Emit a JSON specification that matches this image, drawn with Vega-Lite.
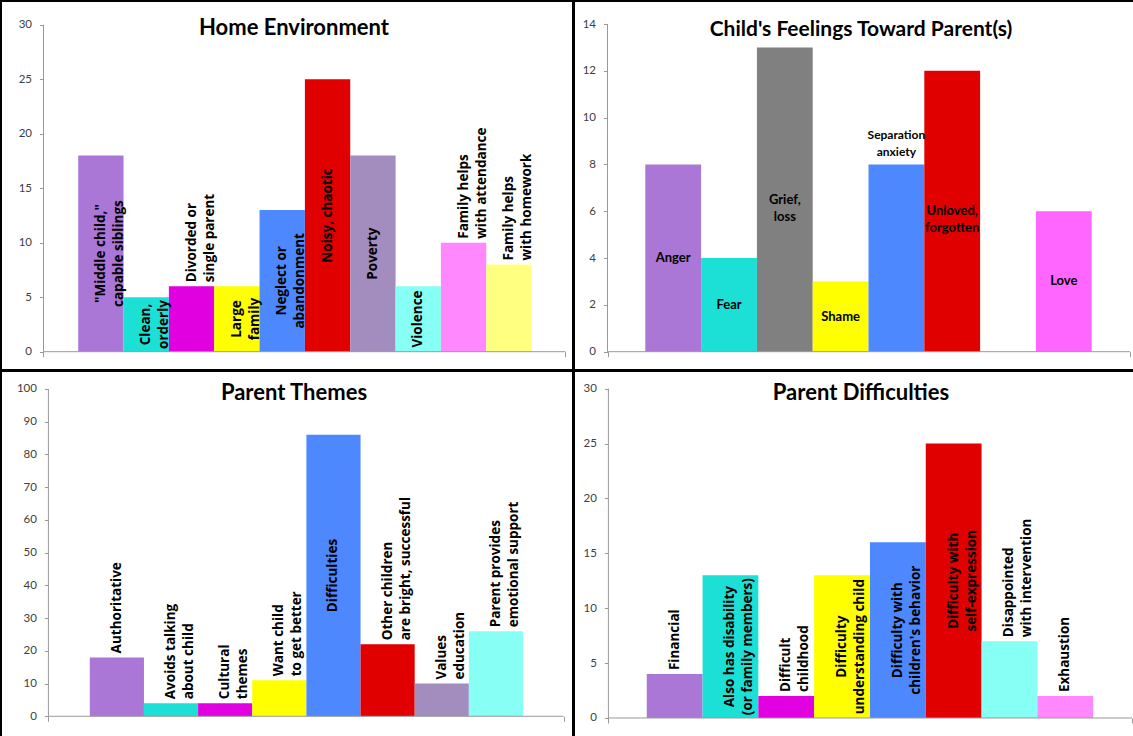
{
  "$schema": "https://vega.github.io/schema/vega-lite/v6.json",
  "background": "black",
  "padding": {"left": 2, "top": 2, "right": 0, "bottom": 0},
  "spacing": 3,
  "resolve": {"scale": {"color": "independent"}},
  "config": {
    "view": {"fill": "white", "stroke": null},
    "axis": {"labelFont": "Lato", "labelFontSize": 11.5, "labelColor": "#404040", "tickColor": "#999999", "tickSize": 4, "domain": false, "grid": false, "title": null, "labelPadding": 8},
    "title": {"font": "Lato", "fontSize": 22, "fontWeight": "bold", "color": "black", "anchor": "middle", "frame": "group", "baseline": "alphabetic", "dx": 7},
    "text": {"font": "Open Sans", "fontSize": 13.5, "fontWeight": "bold", "fill": "black", "lineBreak": "\n", "lineHeight": 18}
  },
  "vconcat": [
    {
      "spacing": 3,
      "resolve": {"scale": {"color": "independent"}},
      "hconcat": [
        {
          "width": 570, "height": 367,
          "title": {"text": "Home Environment", "offset": -38},
          "data": {"values": [
            {"label": "\"Middle child,\"\ncapable siblings", "value": 18},
            {"label": "Clean,\norderly", "value": 5},
            {"label": "Divorded or\nsingle parent", "value": 6},
            {"label": "Large\nfamily", "value": 6},
            {"label": "Neglect  or\nabandonment", "value": 13},
            {"label": "Noisy,  chaotic", "value": 25},
            {"label": "Poverty", "value": 18},
            {"label": "Violence", "value": 6},
            {"label": "Family helps\nwith attendance", "value": 10},
            {"label": "Family helps\nwith homework", "value": 8}
          ]},
          "layer": [
            {
              "encoding": {
                "x": {"field": "label", "type": "nominal", "scale": {"type": "band", "domain": ["\"Middle child,\"\ncapable siblings", "Clean,\norderly", "Divorded or\nsingle parent", "Large\nfamily", "Neglect  or\nabandonment", "Noisy,  chaotic", "Poverty", "Violence", "Family helps\nwith attendance", "Family helps\nwith homework"], "paddingInner": 0, "paddingOuter": 0, "range": [76.2, 529.6]}, "axis": null},
                "y": {"field": "value", "type": "quantitative", "scale": {"domain": [-1.587, 32.083], "nice": false, "zero": false}, "axis": {"values": [0, 5, 10, 15, 20, 25, 30], "offset": -41.5}}
              },
              "layer": [
                {"mark": {"type": "bar"}, "encoding": {"y2": {"datum": 0}, "color": {"field": "label", "type": "nominal", "legend": null, "scale": {"domain": ["\"Middle child,\"\ncapable siblings", "Clean,\norderly", "Divorded or\nsingle parent", "Large\nfamily", "Neglect  or\nabandonment", "Noisy,  chaotic", "Poverty", "Violence", "Family helps\nwith attendance", "Family helps\nwith homework"], "range": ["#AB77D6", "#1CE0D6", "#E000E0", "#FFFF00", "#4D88FF", "#E00000", "#A38CBE", "#88FFF5", "#FF88FF", "#FFFF80"]}}}},
                {"transform": [{"filter": {"field": "label", "oneOf": ["Divorded or\nsingle parent", "Family helps\nwith attendance", "Family helps\nwith homework"]}}], "mark": {"type": "text", "angle": 270, "align": "left", "baseline": "middle", "dx": 4}, "encoding": {"text": {"field": "label"}}}
              ]
            },
            {
              "transform": [{"filter": {"field": "label", "oneOf": ["\"Middle child,\"\ncapable siblings", "Clean,\norderly", "Large\nfamily", "Neglect  or\nabandonment", "Noisy,  chaotic", "Poverty", "Violence"]}}],
              "mark": {"type": "text", "angle": 270, "align": "center", "baseline": "middle"},
              "encoding": {
                "x": {"field": "label", "type": "nominal", "scale": {"type": "band", "domain": ["\"Middle child,\"\ncapable siblings", "Clean,\norderly", "Divorded or\nsingle parent", "Large\nfamily", "Neglect  or\nabandonment", "Noisy,  chaotic", "Poverty", "Violence", "Family helps\nwith attendance", "Family helps\nwith homework"], "paddingInner": 0, "paddingOuter": 0, "range": [76.2, 529.6]}, "axis": null},
                "y": {"field": "value", "type": "quantitative", "scale": {"domain": [-3.174, 64.166], "nice": false, "zero": false}, "axis": null},
                "text": {"field": "label"}
              }
            },
            {
              "data": {"values": [{}]},
              "layer": [
                {"mark": {"type": "rule", "color": "#999999"}, "encoding": {"x": {"datum": 0, "type": "quantitative", "scale": {"domain": [-0.0795, 1.0125], "nice": false, "zero": false}, "axis": {"values": [0, 1], "labels": false, "ticks": true, "tickSize": 5, "offset": -17.3}}, "x2": {"datum": 1}, "y": {"datum": 0, "type": "quantitative", "scale": {"domain": [-1.587, 32.083], "nice": false, "zero": false}, "axis": null}}},
                {"mark": {"type": "rule", "color": "#999999"}, "encoding": {"x": {"datum": 0, "type": "quantitative", "scale": {"domain": [-0.0795, 1.0125], "nice": false, "zero": false}}, "y": {"datum": 0, "type": "quantitative", "scale": {"domain": [-1.587, 32.083], "nice": false, "zero": false}, "axis": null}, "y2": {"datum": 30}}}
              ]
            }
          ],
          "resolve": {"scale": {"x": "independent", "y": "independent"}, "axis": {"x": "independent", "y": "independent"}}
        },
        {
          "width": 558, "height": 367,
          "title": {"text": "Child's Feelings Toward Parent(s)", "offset": -38, "fontSize": 21},
          "data": {"values": [
            {"label": "Anger", "value": 8},
            {"label": "Fear", "value": 4},
            {"label": "Grief,\nloss", "value": 13},
            {"label": "Shame", "value": 3},
            {"label": "Separation\nanxiety", "value": 8},
            {"label": "Unloved,\nforgotten", "value": 12},
            {"label": "Love", "value": 6}
          ]},
          "layer": [
            {
              "encoding": {
                "x": {"field": "label", "type": "nominal", "scale": {"type": "band", "domain": ["Anger", "Fear", "Grief,\nloss", "Shame", "Separation\nanxiety", "Unloved,\nforgotten", " ", "Love"], "paddingInner": 0, "paddingOuter": 1.0657, "align": 0.63}, "axis": null},
                "y": {"field": "value", "type": "quantitative", "scale": {"domain": [-0.739, 14.94], "nice": false, "zero": false}, "axis": {"values": [0, 2, 4, 6, 8, 10, 12, 14], "offset": -32.5}}
              },
              "layer": [
                {"mark": {"type": "bar"}, "encoding": {"y2": {"datum": 0}, "color": {"field": "label", "type": "nominal", "legend": null, "scale": {"domain": ["Anger", "Fear", "Grief,\nloss", "Shame", "Separation\nanxiety", "Unloved,\nforgotten", "Love"], "range": ["#AB77D6", "#1CE0D6", "#808080", "#FFFF00", "#4D88FF", "#E00000", "#FF66FF"]}}}},
                {"transform": [{"filter": {"field": "label", "oneOf": ["Separation\nanxiety"]}}], "mark": {"type": "text", "font": "Lato", "fontSize": 12, "lineHeight": 17, "align": "center", "baseline": "bottom", "dy": -22}, "encoding": {"text": {"field": "label"}}}
              ]
            },
            {
              "transform": [{"filter": {"field": "label", "oneOf": ["Anger", "Fear", "Grief,\nloss", "Shame", "Unloved,\nforgotten", "Love"]}}],
              "mark": {"type": "text", "font": "Lato", "fontSize": 13, "lineHeight": 17, "align": "center", "baseline": "middle"},
              "encoding": {
                "x": {"field": "label", "type": "nominal", "scale": {"type": "band", "domain": ["Anger", "Fear", "Grief,\nloss", "Shame", "Separation\nanxiety", "Unloved,\nforgotten", " ", "Love"], "paddingInner": 0, "paddingOuter": 1.0657, "align": 0.63}, "axis": null},
                "y": {"field": "value", "type": "quantitative", "scale": {"domain": [-1.478, 29.88], "nice": false, "zero": false}, "axis": null},
                "text": {"field": "label"}
              }
            },
            {
              "data": {"values": [{}]},
              "layer": [
                {"mark": {"type": "rule", "color": "#999999"}, "encoding": {"x": {"datum": 0, "type": "quantitative", "scale": {"domain": [-0.0622, 1.0057], "nice": false, "zero": false}, "axis": {"values": [0, 1], "labels": false, "ticks": true, "tickSize": 5, "offset": -17.3}}, "x2": {"datum": 1}, "y": {"datum": 0, "type": "quantitative", "scale": {"domain": [-0.739, 14.94], "nice": false, "zero": false}, "axis": null}}},
                {"mark": {"type": "rule", "color": "#999999"}, "encoding": {"x": {"datum": 0, "type": "quantitative", "scale": {"domain": [-0.0622, 1.0057], "nice": false, "zero": false}}, "y": {"datum": 0, "type": "quantitative", "scale": {"domain": [-0.739, 14.94], "nice": false, "zero": false}, "axis": null}, "y2": {"datum": 14}}}
              ]
            }
          ],
          "resolve": {"scale": {"x": "independent", "y": "independent"}, "axis": {"x": "independent", "y": "independent"}}
        }
      ]
    },
    {
      "spacing": 3,
      "resolve": {"scale": {"color": "independent"}},
      "hconcat": [
        {
          "width": 570, "height": 364,
          "title": {"text": "Parent Themes", "offset": -33},
          "data": {"values": [
            {"label": "Authoritative", "value": 18},
            {"label": "Avoids  talking\nabout child", "value": 4},
            {"label": "Cultural\nthemes", "value": 4},
            {"label": "Want  child\nto  get  better", "value": 11},
            {"label": "Difficulties", "value": 86},
            {"label": "Other  children\nare  bright,  successful", "value": 22},
            {"label": "Values\neducation", "value": 10},
            {"label": "Parent provides\nemotional support", "value": 26}
          ]},
          "layer": [
            {
              "encoding": {
                "x": {"field": "label", "type": "nominal", "scale": {"type": "band", "domain": ["Authoritative", "Avoids  talking\nabout child", "Cultural\nthemes", "Want  child\nto  get  better", "Difficulties", "Other  children\nare  bright,  successful", "Values\neducation", "Parent provides\nemotional support"], "paddingInner": 0, "paddingOuter": 0, "range": [87.8, 521]}, "axis": null},
                "y": {"field": "value", "type": "quantitative", "scale": {"domain": [-6.02, 105.19], "nice": false, "zero": false}, "axis": {"values": [0, 10, 20, 30, 40, 50, 60, 70, 80, 90, 100], "offset": -46.4}}
              },
              "layer": [
                {"mark": {"type": "bar"}, "encoding": {"y2": {"datum": 0}, "color": {"field": "label", "type": "nominal", "legend": null, "scale": {"domain": ["Authoritative", "Avoids  talking\nabout child", "Cultural\nthemes", "Want  child\nto  get  better", "Difficulties", "Other  children\nare  bright,  successful", "Values\neducation", "Parent provides\nemotional support"], "range": ["#AB77D6", "#1CE0D6", "#E000E0", "#FFFF00", "#4D88FF", "#E00000", "#A38CBE", "#88FFF5"]}}}},
                {"transform": [{"filter": {"field": "label", "oneOf": ["Authoritative", "Avoids  talking\nabout child", "Cultural\nthemes", "Want  child\nto  get  better", "Other  children\nare  bright,  successful", "Values\neducation", "Parent provides\nemotional support"]}}], "mark": {"type": "text", "angle": 270, "align": "left", "baseline": "middle", "dx": 4}, "encoding": {"text": {"field": "label"}}}
              ]
            },
            {
              "transform": [{"filter": {"field": "label", "oneOf": ["Difficulties"]}}],
              "mark": {"type": "text", "angle": 270, "align": "center", "baseline": "middle"},
              "encoding": {
                "x": {"field": "label", "type": "nominal", "scale": {"type": "band", "domain": ["Authoritative", "Avoids  talking\nabout child", "Cultural\nthemes", "Want  child\nto  get  better", "Difficulties", "Other  children\nare  bright,  successful", "Values\neducation", "Parent provides\nemotional support"], "paddingInner": 0, "paddingOuter": 0, "range": [87.8, 521]}, "axis": null},
                "y": {"field": "value", "type": "quantitative", "scale": {"domain": [-12.04, 210.38], "nice": false, "zero": false}, "axis": null},
                "text": {"field": "label"}
              }
            },
            {
              "data": {"values": [{}]},
              "layer": [
                {"mark": {"type": "rule", "color": "#999999"}, "encoding": {"x": {"datum": 0, "type": "quantitative", "scale": {"domain": [-0.0901, 1.0163], "nice": false, "zero": false}, "axis": {"values": [0, 1], "labels": false, "ticks": true, "tickSize": 5, "offset": -19.7}}, "x2": {"datum": 1}, "y": {"datum": 0, "type": "quantitative", "scale": {"domain": [-6.02, 105.19], "nice": false, "zero": false}, "axis": null}}},
                {"mark": {"type": "rule", "color": "#999999"}, "encoding": {"x": {"datum": 0, "type": "quantitative", "scale": {"domain": [-0.0901, 1.0163], "nice": false, "zero": false}}, "y": {"datum": 0, "type": "quantitative", "scale": {"domain": [-6.02, 105.19], "nice": false, "zero": false}, "axis": null}, "y2": {"datum": 100}}}
              ]
            }
          ],
          "resolve": {"scale": {"x": "independent", "y": "independent"}, "axis": {"x": "independent", "y": "independent"}}
        },
        {
          "width": 558, "height": 364,
          "title": {"text": "Parent Difficulties", "offset": -33},
          "data": {"values": [
            {"label": "Financial", "value": 4},
            {"label": "Also  has disability\n(or family members)", "value": 13},
            {"label": "Difficult\nchildhood", "value": 2},
            {"label": "Difficulty\nunderstanding  child", "value": 13},
            {"label": "Difficulty  with\nchildren's behavior", "value": 16},
            {"label": "Difficulty  with\nself-expression", "value": 25},
            {"label": "Disappointed\nwith  intervention", "value": 7},
            {"label": "Exhaustion", "value": 2}
          ]},
          "layer": [
            {
              "encoding": {
                "x": {"field": "label", "type": "nominal", "scale": {"type": "band", "domain": ["Financial", "Also  has disability\n(or family members)", "Difficult\nchildhood", "Difficulty\nunderstanding  child", "Difficulty  with\nchildren's behavior", "Difficulty  with\nself-expression", "Disappointed\nwith  intervention", "Exhaustion"], "paddingInner": 0, "paddingOuter": 1.0566, "align": 0.643}, "axis": null},
                "y": {"field": "value", "type": "quantitative", "scale": {"domain": [-1.64, 31.52], "nice": false, "zero": false}, "axis": {"values": [0, 5, 10, 15, 20, 25, 30], "offset": -33.4}}
              },
              "layer": [
                {"mark": {"type": "bar"}, "encoding": {"y2": {"datum": 0}, "color": {"field": "label", "type": "nominal", "legend": null, "scale": {"domain": ["Financial", "Also  has disability\n(or family members)", "Difficult\nchildhood", "Difficulty\nunderstanding  child", "Difficulty  with\nchildren's behavior", "Difficulty  with\nself-expression", "Disappointed\nwith  intervention", "Exhaustion"], "range": ["#AB77D6", "#1CE0D6", "#E000E0", "#FFFF00", "#4D88FF", "#E00000", "#88FFF5", "#FF88FF"]}}}},
                {"transform": [{"filter": {"field": "label", "oneOf": ["Financial", "Difficult\nchildhood", "Disappointed\nwith  intervention", "Exhaustion"]}}], "mark": {"type": "text", "angle": 270, "align": "left", "baseline": "middle", "dx": 4}, "encoding": {"text": {"field": "label"}}}
              ]
            },
            {
              "transform": [{"filter": {"field": "label", "oneOf": ["Also  has disability\n(or family members)", "Difficulty\nunderstanding  child", "Difficulty  with\nchildren's behavior", "Difficulty  with\nself-expression"]}}],
              "mark": {"type": "text", "angle": 270, "align": "center", "baseline": "middle"},
              "encoding": {
                "x": {"field": "label", "type": "nominal", "scale": {"type": "band", "domain": ["Financial", "Also  has disability\n(or family members)", "Difficult\nchildhood", "Difficulty\nunderstanding  child", "Difficulty  with\nchildren's behavior", "Difficulty  with\nself-expression", "Disappointed\nwith  intervention", "Exhaustion"], "paddingInner": 0, "paddingOuter": 1.0566, "align": 0.643}, "axis": null},
                "y": {"field": "value", "type": "quantitative", "scale": {"domain": [-3.28, 63.04], "nice": false, "zero": false}, "axis": null},
                "text": {"field": "label"}
              }
            },
            {
              "data": {"values": [{}]},
              "layer": [
                {"mark": {"type": "rule", "color": "#999999"}, "encoding": {"x": {"datum": 0, "type": "quantitative", "scale": {"domain": [-0.0638, 1.0019], "nice": false, "zero": false}, "axis": {"values": [0, 1], "labels": false, "ticks": true, "tickSize": 5, "offset": -18}}, "x2": {"datum": 1}, "y": {"datum": 0, "type": "quantitative", "scale": {"domain": [-1.64, 31.52], "nice": false, "zero": false}, "axis": null}}},
                {"mark": {"type": "rule", "color": "#999999"}, "encoding": {"x": {"datum": 0, "type": "quantitative", "scale": {"domain": [-0.0638, 1.0019], "nice": false, "zero": false}}, "y": {"datum": 0, "type": "quantitative", "scale": {"domain": [-1.64, 31.52], "nice": false, "zero": false}, "axis": null}, "y2": {"datum": 30}}}
              ]
            }
          ],
          "resolve": {"scale": {"x": "independent", "y": "independent"}, "axis": {"x": "independent", "y": "independent"}}
        }
      ]
    }
  ]
}
